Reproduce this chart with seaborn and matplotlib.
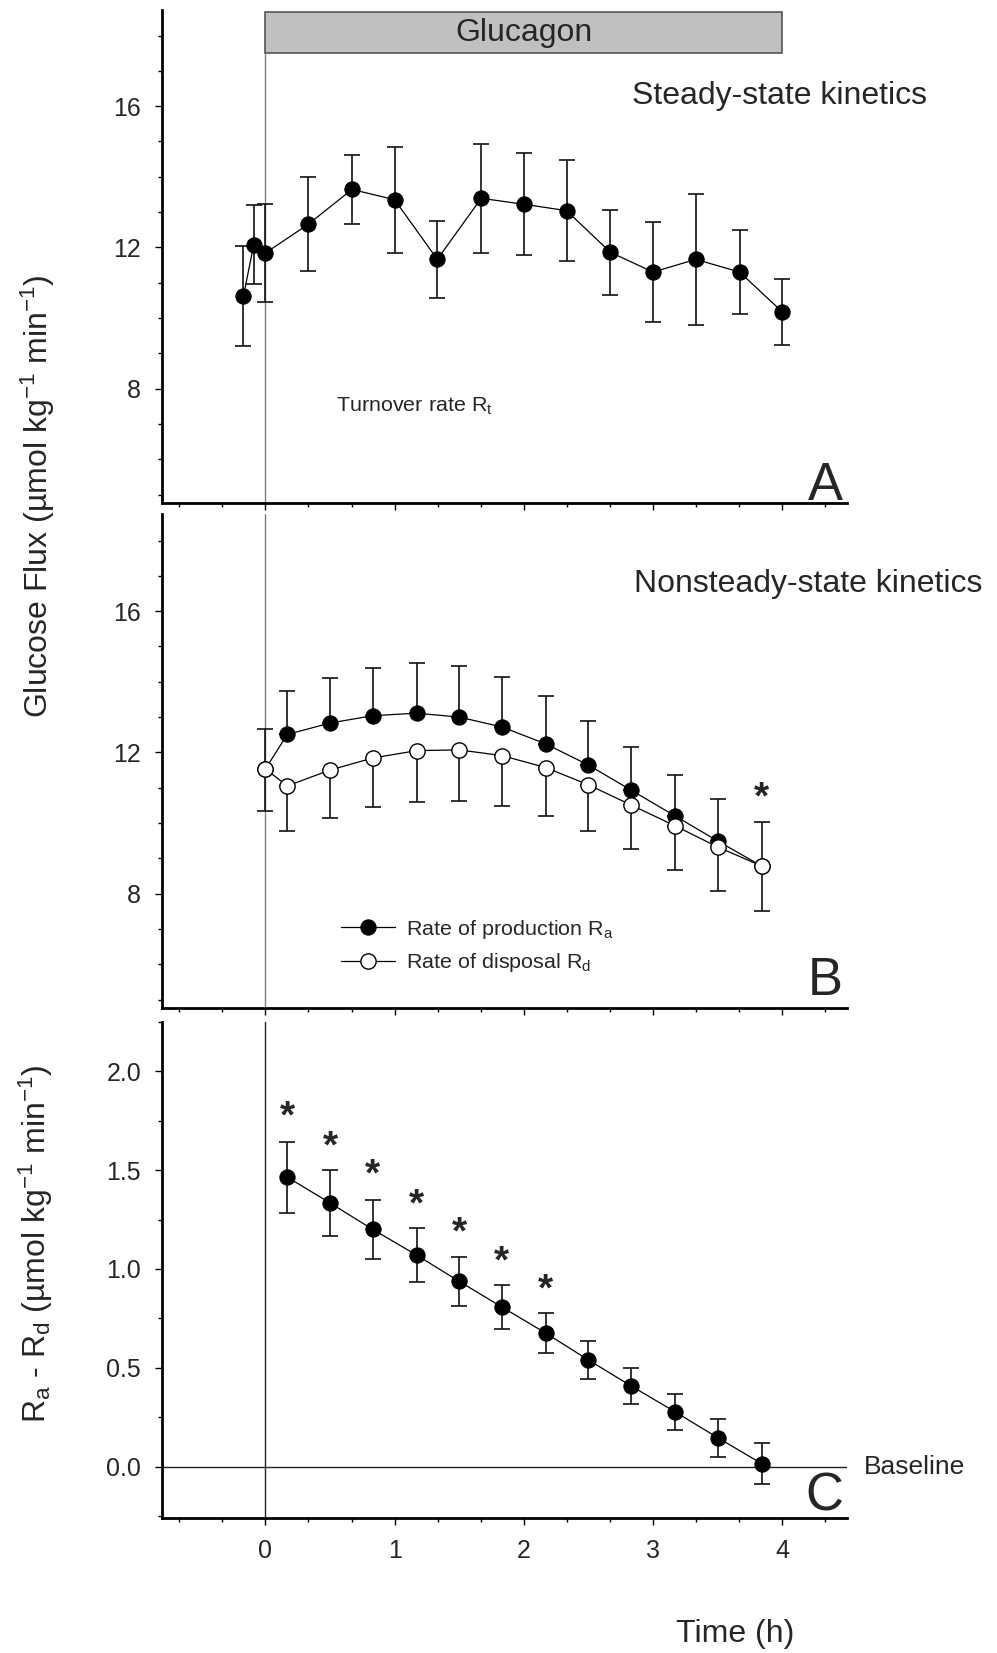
import matplotlib
matplotlib.use('Agg')
import matplotlib.pyplot as plt
import seaborn as sns
import pandas as pd
import numpy as np
from matplotlib.patches import Rectangle
from matplotlib.ticker import MultipleLocator
from matplotlib import font_manager

# Painel A - turnover rate Rt (steady-state)
t_a = [-0.17, -0.09, 0.0, 0.33, 0.67, 1.0, 1.33, 1.67, 2.0, 2.33, 2.67, 3.0, 3.33, 3.67, 4.0]
rt = [10.62, 12.08, 11.84, 12.65, 13.64, 13.35, 11.66, 13.39, 13.22, 13.04, 11.86, 11.3, 11.66, 11.3, 10.17]
rt_err = [1.41, 1.12, 1.40, 1.33, 0.97, 1.50, 1.09, 1.55, 1.45, 1.44, 1.21, 1.42, 1.85, 1.18, 0.93]

# Painel B - Ra e Rd (nonsteady-state)
t_b = [0.0, 0.17, 0.5, 0.83, 1.17, 1.5, 1.83, 2.17, 2.5, 2.83, 3.17, 3.5, 3.84]
ra = [11.53, 12.51, 12.83, 13.04, 13.11, 13.0, 12.72, 12.24, 11.64, 10.93, 10.2, 9.49, 8.78]
ra_err = [1.13, 1.23, 1.28, 1.36, 1.42, 1.46, 1.41, 1.35, 1.26, 1.21, 1.16, 1.18, 1.25]
rd = [11.53, 11.05, 11.5, 11.84, 12.05, 12.07, 11.91, 11.57, 11.08, 10.51, 9.92, 9.32, 8.78]
rd_err = [1.19, 1.29, 1.35, 1.39, 1.45, 1.45, 1.42, 1.37, 1.3, 1.25, 1.25, 1.25, 1.28]
star_b_t = [3.84]
star_b_y = [11.05]

# Painel C - Ra - Rd
t_c = [0.17, 0.5, 0.83, 1.17, 1.5, 1.83, 2.17, 2.5, 2.83, 3.17, 3.5, 3.84]
diff = [1.464, 1.334, 1.2, 1.07, 0.937, 0.807, 0.675, 0.539, 0.408, 0.277, 0.146, 0.015]
diff_err = [0.18, 0.165, 0.15, 0.135, 0.123, 0.11, 0.10, 0.095, 0.09, 0.092, 0.096, 0.103]
star_c_t = [0.17, 0.5, 0.83, 1.17, 1.5, 1.83, 2.17]
star_c_y = [1.826, 1.678, 1.533, 1.384, 1.243, 1.093, 0.954]

sns.set_style('ticks')
plt.rcParams['font.family'] = ['Liberation Sans', 'DejaVu Sans']
plt.rcParams['mathtext.fontset'] = 'custom'
plt.rcParams['mathtext.rm'] = 'Liberation Sans'
plt.rcParams['mathtext.it'] = 'Liberation Sans:italic'
plt.rcParams['mathtext.bf'] = 'Liberation Sans:bold'

nomes = {f.name for f in font_manager.fontManager.ttflist}
if 'Liberation Sans Narrow' in nomes:
    narrow = ['Liberation Sans Narrow', 'Liberation Sans']
    esc = 1.0
else:
    narrow = ['Liberation Sans', 'DejaVu Sans']
    esc = 0.86

fig = plt.figure(figsize=(9.97, 16.53), dpi=100)
ax_a = fig.add_axes([0.1625, 0.6957, 0.687, 0.2982])
ax_b = fig.add_axes([0.1625, 0.3902, 0.687, 0.2988])
ax_c = fig.add_axes([0.1625, 0.0817, 0.687, 0.3001])


def estilo(ax, ylim, maj, mino):
    ax.set_xlim(-0.8, 4.5)
    ax.set_ylim(*ylim)
    ax.xaxis.set_major_locator(MultipleLocator(1))
    ax.xaxis.set_minor_locator(MultipleLocator(1 / 3))
    ax.yaxis.set_major_locator(MultipleLocator(maj))
    ax.yaxis.set_minor_locator(MultipleLocator(mino))
    for s in ['top', 'right']:
        ax.spines[s].set_visible(False)
    for s in ['left', 'bottom']:
        ax.spines[s].set_linewidth(2.0)
        ax.spines[s].set_color('black')
    ax.tick_params(which='major', direction='out', length=5, width=1, color='black',
                   labelsize=18, pad=10)
    ax.tick_params(which='minor', direction='out', length=3, width=1, color='black')
    ax.set_xlabel('')
    ax.set_ylabel('')
    ax.set_facecolor('white')


def estrela(ax, x, y, fs=28):
    ax.annotate('*', (x, y), xytext=(0, -0.57 * fs), textcoords='offset points',
                ha='center', va='baseline', fontsize=fs, fontweight='bold')


# ---- A ----
ax = ax_a
ax.add_patch(Rectangle((0, 17.5), 4, 1.17, facecolor='#c0c0c0', edgecolor='#555555', lw=1.2, zorder=3))
ax.text(2, 18.08, 'Glucagon', ha='center', va='center', fontsize=23, zorder=4)
ax.plot([0, 0], [4.0, 17.5], color='#808080', lw=1)
ax.errorbar(t_a, rt, yerr=rt_err, fmt='none', ecolor='#111111', elinewidth=1.2, capsize=5.5, capthick=1.2, zorder=2)
sns.lineplot(x=t_a, y=rt, ax=ax, color='black', lw=0.9, marker='o', markersize=11,
             markeredgecolor='black', zorder=4)
ax.text(2.84, 16.3, 'Steady-state kinetics', ha='left', va='center', fontsize=23)
ax.text(0.55, 7.5, r'Turnover rate R$_\mathregular{t}$', ha='left', va='center',
        fontsize=18 * esc, family=narrow)
ax.text(0.994, 0.006, 'A', transform=ax.transAxes, ha='right', va='baseline', fontsize=44 * esc, family=narrow)
estilo(ax, (4.76, 18.72), 4, 1)
ax.tick_params(axis='x', labelbottom=False)

# ---- B ----
ax = ax_b
ax.axvline(0, color='#808080', lw=1)
ax.errorbar(t_b, ra, yerr=[[0] * len(ra), ra_err], fmt='none', ecolor='#111111', elinewidth=1.2,
            capsize=5.5, capthick=1.2, zorder=2)
ax.errorbar(t_b, rd, yerr=[rd_err, [0] * len(rd)], fmt='none', ecolor='#111111', elinewidth=1.2,
            capsize=5.5, capthick=1.2, zorder=2)
sns.lineplot(x=t_b, y=ra, ax=ax, color='black', lw=0.9, marker='o', markersize=11,
             markeredgecolor='black', label=r'Rate of production R$_\mathregular{a}$', zorder=4)
sns.lineplot(x=t_b, y=rd, ax=ax, color='black', lw=0.9, marker='o', markersize=11,
             markerfacecolor='white', markeredgecolor='black', markeredgewidth=1,
             label=r'Rate of disposal R$_\mathregular{d}$', zorder=5)
for x, y in zip(star_b_t, star_b_y):
    estrela(ax, x, y)
ax.text(2.855, 16.77, 'Nonsteady-state kinetics', ha='left', va='center', fontsize=23, clip_on=False)
ax.text(0.994, 0.026, 'B', transform=ax.transAxes, ha='right', va='baseline', fontsize=44 * esc, family=narrow)
leg = ax.legend(loc='upper left', bbox_to_anchor=(0.261, 0.183), frameon=False, borderpad=0,
                borderaxespad=0, handlelength=2.5, handletextpad=0.55, labelspacing=0.5,
                prop={'family': narrow, 'size': 18 * esc})
estilo(ax, (4.76, 18.75), 4, 1)
ax.tick_params(axis='x', labelbottom=False)

# ---- C ----
ax = ax_c
ax.axvline(0, color='#222222', lw=1)
ax.axhline(0, color='#222222', lw=1)
ax.errorbar(t_c, diff, yerr=diff_err, fmt='none', ecolor='#111111', elinewidth=1.2,
            capsize=5.5, capthick=1.2, zorder=2)
sns.lineplot(x=t_c, y=diff, ax=ax, color='black', lw=0.9, marker='o', markersize=11,
             markeredgecolor='black', zorder=4)
for x, y in zip(star_c_t, star_c_y):
    estrela(ax, x, y)
ax.text(4.63, 0, 'Baseline', ha='left', va='center', fontsize=19, clip_on=False)
ax.text(0.994, 0.016, 'C', transform=ax.transAxes, ha='right', va='baseline', fontsize=44 * esc, family=narrow)
estilo(ax, (-0.26, 2.25), 0.5, 0.25)
ax.yaxis.set_major_formatter(matplotlib.ticker.FormatStrFormatter('%.1f'))
if ax.get_legend() is not None:
    ax.get_legend().remove()

fig.text(0.038, 0.6996, r'Glucose Flux (µmol kg$^\mathregular{-1}$ min$^\mathregular{-1}$)',
         rotation=90, ha='center', va='center', fontsize=23)
fig.text(0.036, 0.2477, r'R$_\mathregular{a}$ - R$_\mathregular{d}$ (µmol kg$^\mathregular{-1}$ min$^\mathregular{-1}$)',
         rotation=90, ha='center', va='center', fontsize=23)
fig.text(0.737, 0.0115, 'Time (h)', ha='center', va='center', fontsize=23)

fig.savefig('out.png', dpi=100, facecolor='white')
